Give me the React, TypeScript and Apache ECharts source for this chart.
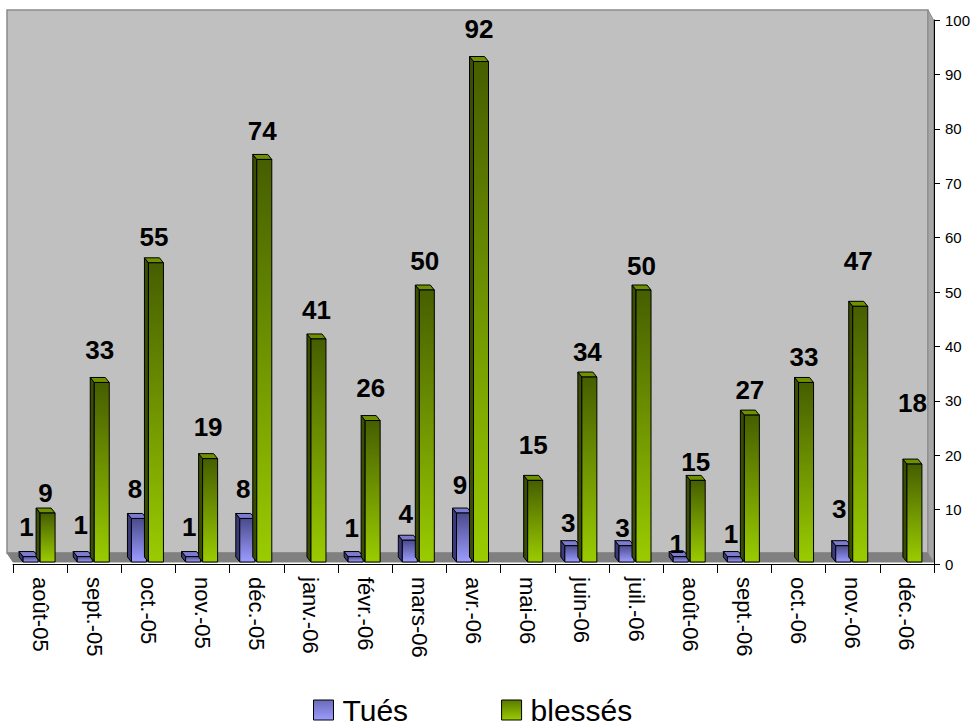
import React, { useEffect, useRef } from "react";
import * as echarts from "echarts";

const months = [
  "août-05", "sept.-05", "oct.-05", "nov.-05", "déc.-05", "janv.-06", "févr.-06", "mars-06", "avr.-06",
  "mai-06", "juin-06", "juil.-06", "août-06", "sept.-06", "oct.-06", "nov.-06", "déc.-06",
];
const tues: (number | null)[] = [1, 1, 8, 1, 8, null, 1, 4, 9, null, 3, 3, 1, 1, null, 3, null];
const blesses: number[] = [9, 33, 55, 19, 74, 41, 26, 50, 92, 15, 34, 50, 15, 27, 33, 47, 18];

// vertical lift (px) of each value label above its bar, as placed in the original
const tuesLabelLift = [25, 27, 24, 25, 24, 0, 24, 21, 23, 0, 18, 13, 8, 18, 0, 32, 0];
const blessesLabelLift = [15, 27, 21, 27, 23, 24, 28, 24, 28, 30, 20, 19, 13, 20, 20, 40, 56];

const FONT = "'Liberation Sans', Arial, Helvetica, sans-serif";
const DX = 4;
const DY = 5;
const BW = 15;

const palette = {
  tues: { top: "#7b7bd0", side: "#3a3a7a", g0: "#4a4a8c", g1: "#9c9cff" },
  blesses: { top: "#6f9000", side: "#3a4d00", g0: "#465e00", g1: "#9acc00" },
};

function makeRender(kind: "tues" | "blesses") {
  const col = kind === "tues" ? palette.tues : palette.blesses;
  const lifts = kind === "tues" ? tuesLabelLift : blessesLabelLift;
  return (params: any, api: any) => {
    const i = api.value(0);
    const v = api.value(1);
    if (v === null || v === undefined || isNaN(v)) return null;
    const base = api.coord([i, 0]);
    const peak = api.coord([i, v]);
    const cx = base[0];
    const b = base[1] - 2;
    const t = peak[1] - 2;
    const x = kind === "tues" ? cx - 17 : cx;
    const grad = new echarts.graphic.LinearGradient(0, 0, 0, 1, [
      { offset: 0, color: col.g0 },
      { offset: 1, color: col.g1 },
    ]);
    const labelX = kind === "tues" ? x + BW / 2 - 4 : x + BW / 2 - 2;
    const labelY = t - DY - lifts[i];
    return {
      type: "group",
      children: [
        {
          type: "polygon",
          shape: { points: [[x, t], [x - DX, t - DY], [x - DX, b - DY], [x, b]] },
          style: { fill: col.side, stroke: "#000", lineWidth: 1 },
        },
        {
          type: "polygon",
          shape: { points: [[x, t], [x + BW, t], [x + BW - DX, t - DY], [x - DX, t - DY]] },
          style: { fill: col.top, stroke: "#000", lineWidth: 1 },
        },
        {
          type: "rect",
          shape: { x: x, y: t, width: BW, height: Math.max(b - t, 0) },
          style: { fill: grad, stroke: "#000", lineWidth: 1 },
        },
        {
          type: "text",
          style: {
            text: String(v),
            x: labelX,
            y: labelY,
            align: "center",
            verticalAlign: "middle",
            textAlign: "center",
            textVerticalAlign: "middle",
            fontSize: 26,
            fontWeight: "bold",
            fontFamily: FONT,
            fill: "#000",
          },
        },
      ],
    };
  };
}

function renderWalls(params: any) {
  const cs = params.coordSys;
  const x0 = cs.x;
  const y0 = cs.y;
  const x1 = cs.x + cs.width;
  const y1 = cs.y + cs.height;
  return {
    type: "group",
    children: [
      {
        type: "rect",
        shape: { x: x0 - 6, y: y0 - 10, width: cs.width, height: cs.height - 1 },
        style: { fill: "#c0c0c0", stroke: "#8a8a8a", lineWidth: 1.5 },
      },
      {
        type: "polygon",
        shape: { points: [[x0 - 6, y1 - 11], [x1 - 6, y1 - 11], [x1, y1 - 2], [x0, y1 - 2]] },
        style: { fill: "#808080", stroke: "#808080", lineWidth: 1 },
      },
      {
        type: "polygon",
        shape: { points: [[x1 - 6, y0 - 10], [x1 - 0.5, y0], [x1 - 0.5, y1 - 2], [x1 - 6, y1 - 11]] },
        style: { fill: "#a6a6a6", stroke: "#8a8a8a", lineWidth: 1 },
      },
    ],
  };
}

const legendGrad = (c0: string, c1: string) =>
  new echarts.graphic.LinearGradient(0, 0, 0, 1, [
    { offset: 0, color: c0 },
    { offset: 1, color: c1 },
  ]);

export default function App() {
  const ref = useRef<HTMLDivElement>(null);
  useEffect(() => {
    if (!ref.current) return;
    const chart = echarts.init(ref.current, null, { renderer: "svg" });
    chart.setOption({
      animation: false,
      backgroundColor: "#ffffff",
      grid: { left: 13, right: 43, top: 20, bottom: 162, show: false },
      legend: {
        left: 313,
        top: 695,
        padding: 0,
        itemWidth: 20,
        itemHeight: 20,
        itemGap: 93,
        textStyle: { fontSize: 30, fontFamily: FONT, color: "#000", lineHeight: 30, padding: [0, 0, 0, 4] },
        data: [
          {
            name: "Tués",
            icon: "rect",
            itemStyle: { color: legendGrad("#6a6ab8", "#9c9cff"), borderColor: "#000", borderWidth: 1 },
          },
          {
            name: "blessés",
            icon: "rect",
            itemStyle: { color: legendGrad("#5a7a00", "#9acc00"), borderColor: "#000", borderWidth: 1 },
          },
        ],
      },
      xAxis: {
        type: "category",
        data: months,
        boundaryGap: true,
        z: 5,
        axisLine: { show: true, lineStyle: { color: "#000", width: 1 } },
        axisTick: { show: true, length: 9, interval: 0, lineStyle: { color: "#000" } },
        axisLabel: {
          interval: 0,
          rotate: -90,
          margin: 13,
          fontSize: 22,
          fontFamily: FONT,
          color: "#000",
        },
        splitLine: { show: false },
      },
      yAxis: {
        type: "value",
        position: "right",
        min: 0,
        max: 100,
        interval: 10,
        z: 5,
        axisLine: { show: true, lineStyle: { color: "#000", width: 1 } },
        axisTick: { show: true, length: 6, inside: false, lineStyle: { color: "#000" } },
        axisLabel: { margin: 11, fontSize: 15, fontFamily: FONT, color: "#000" },
        splitLine: { show: false },
      },
      series: [
        {
          name: "walls",
          type: "custom",
          silent: true,
          z: 0,
          renderItem: renderWalls,
          data: [[0, 0]],
        },
        {
          name: "Tués",
          type: "custom",
          z: 2,
          itemStyle: { color: "#8888ee" },
          renderItem: makeRender("tues"),
          data: tues.map((v, i) => [i, v === null ? "-" : v]),
        },
        {
          name: "blessés",
          type: "custom",
          z: 3,
          itemStyle: { color: "#88b400" },
          renderItem: makeRender("blesses"),
          data: blesses.map((v, i) => [i, v]),
        },
      ],
    });
    return () => chart.dispose();
  }, []);
  return (
    <div
      ref={ref}
      style={{ position: "absolute", left: 0, top: 0, width: 977, height: 726 }}
    />
  );
}
